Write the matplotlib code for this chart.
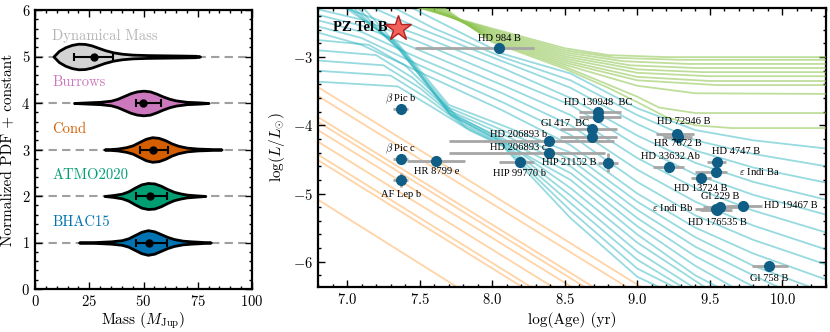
import numpy as np
import matplotlib
matplotlib.use("Agg")
import matplotlib.pyplot as plt
from matplotlib.ticker import MultipleLocator

plt.rcParams['font.family'] = 'serif'
plt.rcParams['font.serif'] = ['cmr10']
plt.rcParams['mathtext.fontset'] = 'cm'
plt.rcParams['axes.formatter.use_mathtext'] = True

# ---------------- left panel data: mass posteriors ----------------
violin_names = ["BHAC15", "ATMO2020", "Cond", "Burrows", "Dynamical Mass"]
violin_colors = ["#0173b2", "#029e73", "#d55e00", "#cc78bc", "#d3d3d3"]
text_colors = ["#0173b2", "#029e73", "#d55e00", "#cc78bc", "#b4b4b4"]

bhac_mass = [20.3, 28, 35, 40, 43, 46, 49, 52, 55, 58, 61, 64, 68, 72, 76, 81]
bhac_pdf = [0, 0.01, 0.025, 0.05, 0.09, 0.16, 0.23, 0.265, 0.24, 0.18, 0.12, 0.075, 0.04, 0.025, 0.015, 0]
atmo_mass = [32, 36, 40, 43, 46, 49, 52, 55, 58, 61, 64, 67, 70, 74, 78.5]
atmo_pdf = [0, 0.02, 0.05, 0.1, 0.18, 0.25, 0.28, 0.27, 0.22, 0.15, 0.09, 0.055, 0.03, 0.015, 0]
cond_mass = [32, 38, 42, 45, 48, 51, 54, 57, 60, 63, 66, 70, 75, 80, 86]
cond_pdf = [0, 0.02, 0.05, 0.09, 0.16, 0.23, 0.265, 0.25, 0.2, 0.13, 0.08, 0.04, 0.02, 0.012, 0]
burrows_mass = [18, 25, 30, 35, 38, 41, 44, 47, 50, 53, 56, 59, 62, 65, 70, 75, 80]
burrows_pdf = [0, 0.015, 0.025, 0.05, 0.09, 0.15, 0.21, 0.25, 0.265, 0.25, 0.2, 0.14, 0.09, 0.055, 0.025, 0.015, 0]
dyn_mass = [8.5, 11, 14, 17, 20, 23, 26, 29, 32, 36, 40, 45, 52, 60, 68, 74, 76]
dyn_pdf = [0, 0.12, 0.2, 0.25, 0.275, 0.27, 0.24, 0.19, 0.14, 0.09, 0.06, 0.04, 0.03, 0.025, 0.02, 0.015, 0]

violin_mass = [bhac_mass, atmo_mass, cond_mass, burrows_mass, dyn_mass]
violin_pdf = [bhac_pdf, atmo_pdf, cond_pdf, burrows_pdf, dyn_pdf]
mass_med = [52.6, 53.2, 54.5, 49.7, 27.2]
mass_lo = [46.6, 46.6, 48.5, 46.6, 18.0]
mass_hi = [60.8, 60.8, 61.2, 58.2, 36.0]

# ---------------- right panel data: companions ----------------
comp_names = ["HD 984 B", "b Pic b", "b Pic c", "HR 8799 e", "AF Lep b",
              "HD 206893 b", "HD 206893 c", "HIP 99770 b", "HIP 21152 B",
              "Gl 417 B", "Gl 417 C", "HD 130948 B", "HD 130948 C",
              "HD 72946 B", "HR 7672 B", "HD 33632 Ab", "HD 4747 B",
              "eps Indi Ba", "HD 13724 B", "Gl 229 B", "eps Indi Bb",
              "HD 176535 B", "HD 19467 B", "Gl 758 B"]
comp_age = [8.05, 7.37, 7.37, 7.61, 7.37, 8.39, 8.39, 8.19, 8.80, 8.69, 8.69,
            8.73, 8.73, 9.27, 9.28, 9.22, 9.55, 9.54, 9.44, 9.57, 9.54, 9.55,
            9.73, 9.91]
comp_age_lo = [7.47, 7.32, 7.32, 7.41, 7.32, 7.70, 7.70, 8.05, 8.73, 8.47, 8.47,
               8.60, 8.60, 9.13, 9.18, 9.11, 9.48, 9.40, 9.37, 9.45, 9.40, 9.43,
               9.61, 9.79]
comp_age_hi = [8.29, 7.42, 7.42, 7.81, 7.42, 8.84, 8.78, 8.29, 8.87, 8.86, 8.86,
               8.89, 8.89, 9.39, 9.38, 9.32, 9.61, 9.62, 9.51, 9.70, 9.62, 9.65,
               9.86, 10.04]
comp_lum = [-2.87, -3.76, -4.49, -4.52, -4.80, -4.23, -4.41, -4.54, -4.55,
            -4.05, -4.17, -3.81, -3.88, -4.13, -4.17, -4.61, -4.54, -4.68,
            -4.77, -5.20, -5.23, -5.24, -5.18, -6.06]
comp_lum_err = [0, 0.03, 0.03, 0.07, 0.10, 0, 0, 0, 0.14, 0, 0, 0, 0, 0, 0,
                0, 0, 0, 0, 0, 0, 0, 0, 0]

label_text = ["HD 984 B", r"$\beta$ Pic b", r"$\beta$ Pic c", "HR 8799 e",
              "AF Lep b", "HD 206893 b", "HD 206893 c", "HIP 99770 b",
              "HIP 21152 B", "Gl 417  BC", "HD 130948  BC", "HD 72946 B",
              "HR 7672 B", "HD 33632 Ab", "HD 4747 B", r"$\varepsilon$ Indi Ba",
              "HD 13724 B", "Gl 229 B", r"$\varepsilon$ Indi Bb", "HD 19467 B",
              "HD 176535 B", "Gl 758 B"]
label_age = [8.05, 7.37, 7.37, 7.62, 7.37, 8.18, 8.18, 8.19, 8.53, 8.50, 8.73,
             9.32, 9.28, 9.23, 9.68, 9.84, 9.44, 9.57, 9.24, 10.06, 9.55, 9.91]
label_lum = [-2.72, -3.61, -4.35, -4.68, -5.01, -4.14, -4.33, -4.70, -4.54,
             -3.98, -3.67, -3.95, -4.27, -4.46, -4.39, -4.68, -4.92, -5.05,
             -5.21, -5.18, -5.42, -6.24]

pz_age = 7.35
pz_lum = -2.58

# evolutionary tracks, (log age, log L) pairs
stellar_tracks = [
    [(7.45, -2.25), (8.0, -2.58), (8.5, -2.87), (8.8, -2.97), (9.2, -3.00), (10.3, -3.00)],
    [(7.47, -2.25), (8.0, -2.60), (8.5, -2.90), (8.85, -3.01), (9.3, -3.04), (10.3, -3.04)],
    [(7.49, -2.25), (8.0, -2.62), (8.5, -2.93), (8.9, -3.06), (9.35, -3.10), (10.3, -3.10)],
    [(7.51, -2.25), (8.0, -2.64), (8.5, -2.96), (8.95, -3.12), (9.4, -3.16), (10.3, -3.16)],
    [(7.53, -2.25), (8.0, -2.66), (8.5, -2.99), (9.0, -3.18), (9.45, -3.22), (10.3, -3.22)],
    [(7.55, -2.25), (8.0, -2.68), (8.5, -3.02), (9.0, -3.23), (9.5, -3.28), (10.3, -3.28)],
    [(7.57, -2.25), (8.0, -2.70), (8.5, -3.05), (9.0, -3.29), (9.5, -3.35), (10.3, -3.35)],
    [(7.59, -2.25), (8.0, -2.72), (8.5, -3.08), (9.0, -3.34), (9.55, -3.41), (10.3, -3.41)],
    [(7.61, -2.25), (8.0, -2.74), (8.5, -3.11), (9.0, -3.42), (9.4, -3.53), (10.3, -3.54)],
    [(7.63, -2.25), (8.0, -2.76), (8.5, -3.14), (9.0, -3.58), (9.15, -3.74), (9.4, -3.82), (10.3, -3.82)],
    [(7.65, -2.25), (8.0, -2.78), (8.5, -3.17), (8.8, -3.45), (9.0, -3.66), (9.2, -3.88), (9.4, -4.00), (9.65, -4.04), (10.3, -4.04)],
]

bd_tracks = [
    [(7.42, -2.25), (8.07, -2.95), (8.54, -3.24), (9.0, -3.75), (9.4, -4.07), (9.8, -4.22), (10.3, -4.34)],
    [(7.30, -2.25), (7.6, -2.58), (8.07, -3.00), (8.54, -3.34), (9.0, -3.85), (9.4, -4.22), (9.8, -4.42), (10.3, -4.60)],
    [(7.15, -2.25), (7.5, -2.58), (8.07, -3.06), (8.54, -3.45), (9.0, -3.98), (9.4, -4.37), (9.8, -4.62), (10.3, -4.84)],
    [(6.95, -2.25), (7.5, -2.68), (8.07, -3.16), (8.54, -3.60), (9.0, -4.15), (9.4, -4.55), (9.8, -4.83), (10.3, -5.09)],
    [(6.8, -2.30), (7.1, -2.45), (7.5, -2.78), (8.07, -3.29), (8.54, -3.70), (9.0, -4.30), (9.4, -4.72), (9.8, -5.02), (10.3, -5.31)],
    [(6.8, -2.38), (7.1, -2.54), (7.5, -2.90), (8.07, -3.41), (8.54, -3.85), (9.0, -4.48), (9.4, -4.92), (9.8, -5.25), (10.3, -5.57)],
    [(6.8, -2.46), (7.1, -2.63), (7.5, -3.02), (8.07, -3.53), (8.54, -4.00), (9.0, -4.65), (9.4, -5.12), (9.8, -5.47), (10.3, -5.82)],
    [(6.8, -2.55), (7.1, -2.72), (7.5, -3.12), (8.07, -3.66), (8.54, -4.14), (9.0, -4.83), (9.4, -5.32), (9.8, -5.68), (10.3, -6.04)],
    [(6.8, -2.64), (7.1, -2.82), (7.5, -3.22), (8.07, -3.78), (8.54, -4.29), (9.0, -5.00), (9.4, -5.50), (9.8, -5.88), (10.3, -6.26)],
    [(6.97, -2.25), (7.35, -2.80), (7.7, -3.70), (8.07, -4.00), (8.54, -4.40), (9.0, -5.12), (9.4, -5.64), (9.8, -6.06), (10.23, -6.40)],
    [(7.00, -2.25), (7.35, -2.84), (7.7, -3.74), (8.07, -4.07), (8.54, -4.50), (9.0, -5.24), (9.4, -5.78), (9.8, -6.20), (10.0, -6.40)],
    [(7.03, -2.25), (7.35, -2.87), (7.7, -3.78), (8.07, -4.13), (8.54, -4.60), (9.0, -5.36), (9.4, -5.92), (9.85, -6.42)],
    [(7.06, -2.25), (7.37, -2.91), (7.7, -3.82), (8.07, -4.19), (8.54, -4.70), (9.0, -5.48), (9.4, -6.06), (9.7, -6.42)],
    [(7.10, -2.25), (7.40, -2.95), (7.72, -3.86), (8.07, -4.24), (8.54, -4.80), (9.0, -5.60), (9.4, -6.20), (9.6, -6.42)],
    [(6.8, -2.75), (7.15, -2.82), (7.40, -3.12), (7.75, -3.85), (8.07, -4.22), (8.54, -4.92), (9.0, -5.72), (9.5, -6.42)],
    [(6.8, -2.90), (7.2, -2.97), (7.45, -3.30), (7.78, -3.92), (8.07, -4.25), (8.54, -5.03), (9.0, -5.85), (9.42, -6.42)],
    [(6.8, -3.05), (7.25, -3.12), (7.50, -3.45), (7.80, -3.98), (8.07, -4.27), (8.54, -5.14), (9.0, -5.97), (9.35, -6.42)],
    [(6.8, -3.20), (7.30, -3.27), (7.55, -3.60), (7.82, -4.03), (8.07, -4.29), (8.54, -5.25), (9.0, -6.10), (9.3, -6.42)],
    [(6.8, -3.36), (7.35, -3.43), (7.60, -3.75), (7.85, -4.08), (8.07, -4.30), (8.54, -5.36), (9.0, -6.22), (9.2, -6.42)],
]

planet_tracks = [
    [(6.8, -3.44), (9.05, -6.40)],
    [(6.8, -3.57), (8.95, -6.40)],
    [(6.8, -3.88), (8.72, -6.40)],
    [(6.8, -3.95), (8.66, -6.40)],
    [(6.8, -4.07), (8.57, -6.40)],
    [(6.8, -4.24), (8.44, -6.40)],
    [(6.8, -4.43), (8.29, -6.40)],
    [(6.8, -4.51), (8.23, -6.40)],
    [(6.8, -5.09), (7.78, -6.40)],
]


def styleAxis(ax):
    ax.tick_params(which='both', direction='in', top=True, right=True, labelsize=10.5)
    ax.tick_params(which='major', length=5, width=1)
    ax.tick_params(which='minor', length=2.5, width=1)
    for s in ax.spines.values():
        s.set_linewidth(1.6)


fig = plt.figure(figsize=(8.3, 3.32), dpi=100)
ax1 = fig.add_axes([35/830, 43/332, 217/830, 279/332])
ax2 = fig.add_axes([318/830, 45/332, 508/830, 279/332])

# ---- left: violins ----
for i in range(5):
    y0 = i + 1
    ax1.axhline(y0, color='#a0a0a0', lw=1.5, dashes=(4, 2.5), zorder=1)
    m = np.array(violin_mass[i])
    h = np.array(violin_pdf[i])
    ax1.fill_between(m, y0 - h, y0 + h, facecolor=violin_colors[i],
                     edgecolor='black', lw=2, zorder=2)
    ax1.errorbar(mass_med[i], y0,
                 xerr=[[mass_med[i] - mass_lo[i]], [mass_hi[i] - mass_med[i]]],
                 fmt='o', color='black', ms=5, lw=1.5, capsize=3, capthick=1.5, zorder=3)
    ax1.text(8, y0 + 0.44, violin_names[i], color=text_colors[i], fontsize=10.5,
             ha='left', va='center')

ax1.set_xlim(0, 100)
ax1.set_ylim(0, 6)
ax1.set_xticks([0, 25, 50, 75, 100])
ax1.xaxis.set_minor_locator(MultipleLocator(5))
ax1.yaxis.set_minor_locator(MultipleLocator(0.2))
ax1.set_xlabel(r'Mass ($M_{\rm Jup}$)', fontsize=11, labelpad=1)
ax1.set_ylabel('Normalized PDF + constant', fontsize=11)
styleAxis(ax1)

# ---- right: tracks and companions ----
for trk in planet_tracks:
    t = np.array(trk)
    ax2.plot(t[:, 0], t[:, 1], color='#ffa94d', alpha=0.5, lw=1.3, zorder=1)
for trk in bd_tracks:
    t = np.array(trk)
    ax2.plot(t[:, 0], t[:, 1], color='#19adb9', alpha=0.45, lw=1.3, zorder=2)
for trk in stellar_tracks:
    t = np.array(trk)
    ax2.plot(t[:, 0], t[:, 1], color='#8bc34a', alpha=0.55, lw=1.3, zorder=3)

age = np.array(comp_age)
xerr = [age - np.array(comp_age_lo), np.array(comp_age_hi) - age]
ax2.errorbar(age, comp_lum, xerr=xerr, yerr=comp_lum_err, fmt='none',
             ecolor='#a6a6a6', elinewidth=2, zorder=4)
ax2.plot(age, comp_lum, 'o', color='#105e85', ms=7, zorder=5)

for txt, x, y in zip(label_text, label_age, label_lum):
    ax2.text(x, y, txt, fontsize=7.6, family='Liberation Serif',
             ha='center', va='center', zorder=6)

ax2.plot(pz_age, pz_lum, marker='*', ms=19, mfc='#f0625a', mec='#b22222',
         mew=1, zorder=7)
ax2.text(7.28, -2.56, 'PZ Tel B', fontsize=10.5, fontweight='bold',
         family='Liberation Serif', ha='right', va='center', zorder=7)

ax2.set_xlim(6.8, 10.3)
ax2.set_ylim(-6.37, -2.28)
ax2.set_xticks([7.0, 7.5, 8.0, 8.5, 9.0, 9.5, 10.0])
ax2.set_yticks([-6, -5, -4, -3])
ax2.xaxis.set_minor_locator(MultipleLocator(0.1))
ax2.yaxis.set_minor_locator(MultipleLocator(0.2))
ax2.set_xlabel('log(Age) (yr)', fontsize=11)
ax2.set_ylabel(r'$\log(L/L_{\odot})$', fontsize=11)
styleAxis(ax2)

fig.savefig('out.png', dpi=100)
